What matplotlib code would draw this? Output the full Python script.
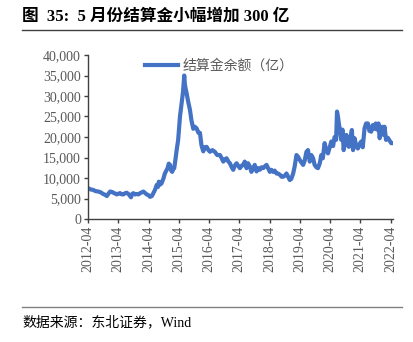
import matplotlib
matplotlib.use("Agg")
import matplotlib.pyplot as plt
from matplotlib.lines import Line2D

plt.rcParams['font.family'] = ['Liberation Serif', 'Noto Sans CJK SC', 'DejaVu Sans']

title = "图  35:  5 月份结算金小幅增加 300 亿"
source = "数据来源：东北证券，Wind"
series_name = "结算金余额（亿）"

x_tick_labels = ["2012-04", "2013-04", "2014-04", "2015-04", "2016-04", "2017-04",
                 "2018-04", "2019-04", "2020-04", "2021-04", "2022-04"]
y_ticks = [0, 5000, 10000, 15000, 20000, 25000, 30000, 35000, 40000]

# time in decimal years
t = [2012.26, 2012.34, 2012.42, 2012.50, 2012.59, 2012.67, 2012.75, 2012.82, 2012.87, 2012.93,
     2012.98, 2013.04, 2013.09, 2013.15, 2013.20, 2013.26, 2013.31, 2013.37, 2013.42, 2013.48,
     2013.53, 2013.60, 2013.67, 2013.71, 2013.75, 2013.80, 2013.86, 2013.92, 2013.97, 2014.03,
     2014.08, 2014.14, 2014.19, 2014.25, 2014.30, 2014.36, 2014.41, 2014.47, 2014.52, 2014.56,
     2014.59, 2014.64, 2014.68, 2014.74, 2014.79, 2014.84, 2014.88, 2014.92, 2014.96, 2015.00,
     2015.03, 2015.07, 2015.10, 2015.14, 2015.18, 2015.23, 2015.29, 2015.34, 2015.39, 2015.43,
     2015.45, 2015.47, 2015.51, 2015.55, 2015.62, 2015.67, 2015.73, 2015.78, 2015.84, 2015.90,
     2015.95, 2016.00, 2016.06, 2016.11, 2016.17, 2016.23, 2016.28, 2016.36, 2016.44, 2016.52,
     2016.61, 2016.67, 2016.72, 2016.78, 2016.83, 2016.89, 2016.94, 2017.00, 2017.05, 2017.10,
     2017.16, 2017.22, 2017.27, 2017.33, 2017.38, 2017.43, 2017.49, 2017.54, 2017.60, 2017.65,
     2017.71, 2017.76, 2017.82, 2017.87, 2017.93, 2017.98, 2018.04, 2018.09, 2018.15, 2018.20,
     2018.26, 2018.31, 2018.37, 2018.42, 2018.48, 2018.53, 2018.59, 2018.65, 2018.70, 2018.76,
     2018.81, 2018.87, 2018.92, 2018.97, 2019.03, 2019.08, 2019.14, 2019.19, 2019.25, 2019.30,
     2019.36, 2019.41, 2019.47, 2019.52, 2019.58, 2019.63, 2019.69, 2019.74, 2019.80, 2019.85,
     2019.91, 2019.96, 2020.01, 2020.07, 2020.12, 2020.18, 2020.24, 2020.29, 2020.35, 2020.40,
     2020.45, 2020.48, 2020.51, 2020.54, 2020.58, 2020.62, 2020.66, 2020.70, 2020.75, 2020.79,
     2020.83, 2020.87, 2020.93, 2020.97, 2021.01, 2021.06, 2021.11, 2021.17, 2021.22, 2021.28,
     2021.33, 2021.39, 2021.44, 2021.50, 2021.55, 2021.61, 2021.66, 2021.72, 2021.76, 2021.80,
     2021.85, 2021.89, 2021.93, 2021.98, 2022.02, 2022.05, 2022.10, 2022.16, 2022.21, 2022.27,
     2022.33]

balance = [7500, 7200, 7100, 6800, 6700, 6500, 6100, 5900, 5600, 6200,
           6700, 6600, 6400, 6200, 6000, 6200, 6300, 6000, 6000, 6300,
           6400, 6000, 5300, 6100, 6300, 6000, 6100, 6000, 6300, 6500,
           6700, 6300, 6000, 5800, 5400, 5600, 6300, 7200, 8300, 7800,
           9100, 8400, 8700, 9800, 11100, 11800, 12400, 13500, 13200, 11800,
           11500, 12200, 12400, 14500, 16800, 19300, 25000, 28000, 31000, 35000,
           33000, 32000, 30700, 29000, 26600, 24000, 22000, 22500, 22100, 21000,
           21000, 18000, 16500, 17500, 17600, 16800, 16400, 16800, 16400, 15600,
           15600, 14800, 14000, 14600, 14800, 14000, 13600, 12600, 12000, 13000,
           13600, 12900, 12400, 13000, 13200, 14000, 12400, 13600, 12800, 11500,
           12400, 13200, 11600, 12400, 12000, 12600, 12400, 12800, 13200, 12400,
           11500, 12000, 11500, 11800, 11100, 11100, 10800, 10300, 10300, 10600,
           11100, 10200, 9500, 9800, 11100, 12800, 15600, 15200, 14400, 13800,
           13200, 14200, 16400, 16800, 14000, 15600, 14800, 13200, 12600, 12400,
           13600, 15600, 14800, 18500, 17000, 16000, 17500, 18900, 17800, 20000,
           19300, 26200, 25000, 23300, 21500, 19300, 21800, 16800, 19500, 20500,
           18200, 17600, 20000, 21700, 16800, 19700, 18000, 17200, 18200, 18900,
           17500, 22100, 23300, 23300, 21500, 21300, 22900, 22000, 23300, 21800,
           23300, 19700, 22000, 22500, 20500, 22500, 19300, 19800, 19200, 18500,
           18500]

fig = plt.figure(figsize=(4.14, 3.42), dpi=100)
ax = fig.add_axes([88/414, 1-219/342, (393-88)/414, (219-55)/342])

ax.plot(t, balance, color='#4472C4', lw=3.0, solid_joinstyle='round')

tick_pos = [int(s[:4]) + (int(s[5:]) - 1) / 12 for s in x_tick_labels]
ax.set_xticks(tick_pos)
ax.set_xticklabels(x_tick_labels, rotation=90, fontsize=10, color='#595959')
ax.set_xlim(2012.25, 2022.33)
ax.set_ylim(0, 40000)
ax.set_yticks(y_ticks)
ax.set_yticklabels([f"{v:,}" for v in y_ticks], fontsize=10, color='#595959')

for s in ['top', 'right']:
    ax.spines[s].set_visible(False)
for s in ['left', 'bottom']:
    ax.spines[s].set_color('#404040')
    ax.spines[s].set_linewidth(1.0)
ax.tick_params(axis='both', direction='out', length=3, width=1.0, color='#404040', pad=2)

handle = Line2D([], [], color='#4472C4', lw=3.0)
leg = fig.legend([handle], [series_name], loc='center left',
                 bbox_to_anchor=(145/414, 1-66/342), bbox_transform=fig.transFigure,
                 frameon=False, handlelength=2.4, handletextpad=0.3,
                 borderpad=0, borderaxespad=0,
                 prop={'family': ['Noto Sans CJK SC'], 'size': 10})
for txt in leg.get_texts():
    txt.set_color('#595959')

fig.text(22/414, 1-17/342, title, fontsize=12, fontweight='bold', va='center', ha='left',
         family=['Liberation Serif', 'Noto Sans CJK SC'])
fig.add_artist(Line2D([22/414, 402/414], [1-30/342, 1-30/342], color='#404040', lw=1.0))
fig.add_artist(Line2D([22/414, 402/414], [1-307/342, 1-307/342], color='#808080', lw=1.0))
fig.text(22/414, 1-322/342, source, fontsize=10, va='center', ha='left',
         family=['Liberation Serif', 'Noto Sans CJK SC'])

fig.savefig('out.png', dpi=100)
